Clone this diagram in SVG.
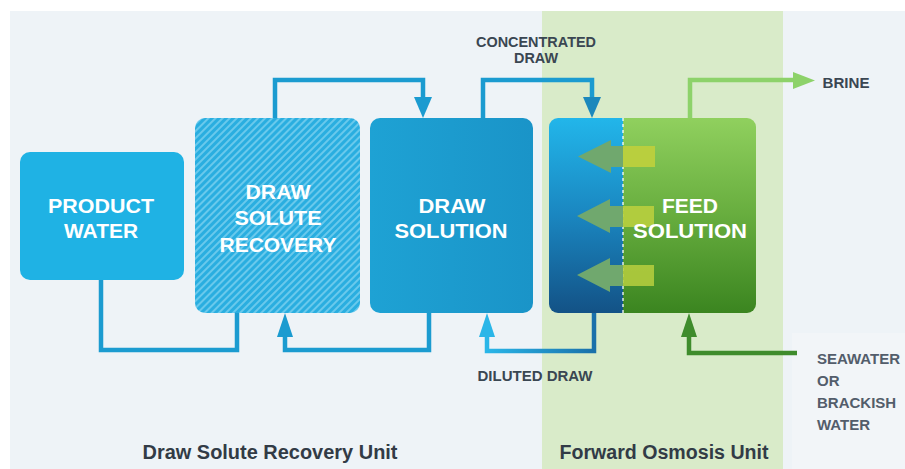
<svg xmlns="http://www.w3.org/2000/svg" width="905" height="469" viewBox="0 0 905 469">
<defs>
<style>
.box-t{font-family:"Liberation Sans",Arial,sans-serif;font-weight:bold;font-size:21px;fill:#ffffff;text-anchor:middle}
.lbl{font-family:"Liberation Sans",Arial,sans-serif;font-weight:bold;font-size:14.5px;fill:#3a4652;text-anchor:middle}
.unit{font-family:"Liberation Sans",Arial,sans-serif;font-weight:bold;font-size:20px;fill:#323b46;text-anchor:middle}
.sea{font-family:"Liberation Sans",Arial,sans-serif;font-weight:bold;font-size:15px;fill:#535d6b}
.blue{fill:none;stroke:#1b9bd0;stroke-width:4.5}
.green{fill:none;stroke:#3f8c2c;stroke-width:4.5}
.lgreen{fill:none;stroke:#8dd26a;stroke-width:4.5}
.fa{fill:#70a86e}
.fb{fill:#b9cf3e}
</style>
<pattern id="hatch" width="5" height="5" patternUnits="userSpaceOnUse" patternTransform="rotate(45)">
<rect width="5" height="5" fill="#2aaee0"/>
<line x1="1" y1="0" x2="1" y2="5" stroke="#79d0f0" stroke-width="1.6"/>
</pattern>
<linearGradient id="gBlue" x1="0" y1="0" x2="0" y2="1">
<stop offset="0" stop-color="#22b6ea"/>
<stop offset="0.5" stop-color="#1a86c0"/>
<stop offset="1" stop-color="#135286"/>
</linearGradient>
<linearGradient id="gGreen" x1="0" y1="0" x2="0" y2="1">
<stop offset="0" stop-color="#90d05e"/>
<stop offset="0.5" stop-color="#67ad3e"/>
<stop offset="1" stop-color="#3b8520"/>
</linearGradient>
<linearGradient id="gDil" x1="0" y1="0" x2="1" y2="0">
<stop offset="0" stop-color="#2ab6e8"/>
<stop offset="1" stop-color="#1a70aa"/>
</linearGradient>
<linearGradient id="gDS" x1="0" y1="0" x2="1" y2="0">
<stop offset="0" stop-color="#1ea2d4"/>
<stop offset="1" stop-color="#1a94c8"/>
</linearGradient>
<clipPath id="foClip"><rect x="549" y="118" width="207" height="195" rx="9"/></clipPath>
</defs>

<rect x="0" y="0" width="905" height="469" fill="#ffffff"/>
<rect x="10" y="11" width="895" height="458" fill="#eef3f7"/>
<rect x="542" y="11" width="241" height="458" fill="#d9ebc9"/>
<rect x="792" y="333" width="113" height="136" fill="#f2f5f8"/>

<g id="connectors">
<polyline class="blue" points="275,118 275,80 423,80 423,99"/>
<polygon points="414,97 432,97 423,118" fill="#1b9bd0"/>
<polyline class="blue" points="483,118 483,80 592,80 592,99" stroke="#1b8cc0"/>
<polygon points="583,97 601,97 592,118" fill="#1b88bc"/>
<polyline class="lgreen" points="690,118 690,80 796,80"/>
<polygon points="793,72 793,89 815,80.5" fill="#8dd26a"/>
<polyline class="blue" points="101,280 101,350 237,350 237,313" stroke="#1da8da"/>
<polyline class="blue" points="429,313 429,350 285,350 285,335"/>
<polygon points="277,337 293,337 285,313" fill="#1b9bd0"/>
<polyline fill="none" stroke="url(#gDil)" stroke-width="4.5" points="594,313 594,351 487,351 487,335"/>
<polygon points="479,337 495,337 487,313" fill="#2ab6e8"/>
<polyline class="green" points="797,353 689,353 689,335"/>
<polygon points="681,337 697,337 689,313" fill="#3f8c2c"/>
</g>

<g id="product-water">
<rect x="20" y="152" width="164" height="128" rx="10" fill="#1fb2e4"/>
<text class="box-t" x="101" y="213" textLength="106" lengthAdjust="spacingAndGlyphs">PRODUCT</text>
<text class="box-t" x="101" y="238" textLength="74" lengthAdjust="spacingAndGlyphs">WATER</text>
</g>

<g id="draw-solute-recovery">
<rect x="195" y="118" width="165" height="195" rx="10" fill="url(#hatch)"/>
<text class="box-t" x="278" y="199" textLength="65" lengthAdjust="spacingAndGlyphs">DRAW</text>
<text class="box-t" x="278" y="225" textLength="87" lengthAdjust="spacingAndGlyphs">SOLUTE</text>
<text class="box-t" x="278" y="252" textLength="117" lengthAdjust="spacingAndGlyphs">RECOVERY</text>
</g>

<g id="draw-solution">
<rect x="370" y="118" width="163" height="195" rx="10" fill="url(#gDS)"/>
<text class="box-t" x="452" y="213" textLength="67" lengthAdjust="spacingAndGlyphs">DRAW</text>
<text class="box-t" x="451" y="238" textLength="113" lengthAdjust="spacingAndGlyphs">SOLUTION</text>
</g>

<g id="forward-osmosis">
<g clip-path="url(#foClip)">
<rect x="549" y="118" width="74" height="195" fill="url(#gBlue)"/>
<rect x="623" y="118" width="133" height="195" fill="url(#gGreen)"/>
</g>
<line x1="623" y1="118" x2="623" y2="313" stroke="#ffffff" stroke-width="1.5" stroke-dasharray="3,3" opacity="0.85"/>
<polygon class="fa" points="578,156.5 611,140 611,146 623,146 623,167 611,167 611,173"/>
<rect class="fb" x="623" y="146" width="32" height="21"/>
<polygon class="fa" points="577,216 610,199 610,206 623,206 623,227 610,227 610,233"/>
<rect class="fb" x="623" y="206" width="31" height="21" opacity="0.9"/>
<polygon class="fa" points="577,275 610,258 610,265 623,265 623,286 610,286 610,292"/>
<rect class="fb" x="623" y="265" width="31" height="21" opacity="0.85"/>
<text class="box-t" x="690" y="213" textLength="56" lengthAdjust="spacingAndGlyphs">FEED</text>
<text class="box-t" x="690" y="238" textLength="114" lengthAdjust="spacingAndGlyphs">SOLUTION</text>
</g>

<g id="labels">
<text class="lbl" x="536" y="47" textLength="120" lengthAdjust="spacingAndGlyphs">CONCENTRATED</text>
<text class="lbl" x="536" y="63" textLength="44" lengthAdjust="spacingAndGlyphs">DRAW</text>
<text class="lbl" x="846" y="88" textLength="47" lengthAdjust="spacingAndGlyphs">BRINE</text>
<text class="lbl" x="535" y="381" textLength="115" lengthAdjust="spacingAndGlyphs">DILUTED DRAW</text>
<text class="sea" x="817" y="364">SEAWATER</text>
<text class="sea" x="817" y="386">OR</text>
<text class="sea" x="817" y="408">BRACKISH</text>
<text class="sea" x="817" y="430">WATER</text>
<text class="unit" x="270" y="459" textLength="255" lengthAdjust="spacingAndGlyphs">Draw Solute Recovery Unit</text>
<text class="unit" x="664" y="459" textLength="209" lengthAdjust="spacingAndGlyphs">Forward Osmosis Unit</text>
</g>
</svg>
